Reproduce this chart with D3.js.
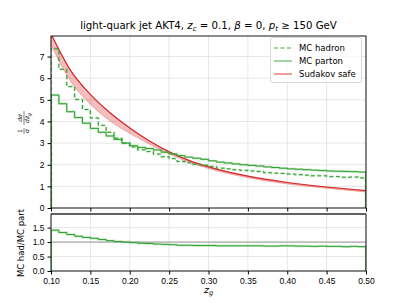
<!DOCTYPE html>
<html>
<head>
<meta charset="utf-8">
<script src="https://cdn.jsdelivr.net/npm/d3@7"></script>
<style>
  body { margin: 0; background: #fff; }
  svg { font-family: "DejaVu Sans", sans-serif; }
  .tick text { font-size: 8.5px; fill: #000; }
</style>
</head>
<body>
<svg id="chart" width="407" height="305"></svg>
<script>
// bin lower edges (width 0.01) from 0.10 to 0.49
var binEdges = [0.10,0.11,0.12,0.13,0.14,0.15,0.16,0.17,0.18,0.19,
                0.20,0.21,0.22,0.23,0.24,0.25,0.26,0.27,0.28,0.29,
                0.30,0.31,0.32,0.33,0.34,0.35,0.36,0.37,0.38,0.39,
                0.40,0.41,0.42,0.43,0.44,0.45,0.46,0.47,0.48,0.49];
var binEnd = 0.50;

var mcParton = [5.22,4.82,4.45,4.18,3.92,3.68,3.50,3.33,3.17,3.00,
                2.88,2.80,2.75,2.68,2.58,2.50,2.42,2.35,2.30,2.25,
                2.18,2.12,2.08,2.04,2.00,1.97,1.94,1.90,1.87,1.84,
                1.81,1.79,1.77,1.75,1.73,1.71,1.70,1.69,1.68,1.66];

var mcHadron = [7.36,6.41,5.61,5.02,4.55,4.16,3.82,3.50,3.23,3.00,
                2.82,2.69,2.61,2.49,2.37,2.28,2.15,2.09,2.02,1.98,
                1.92,1.84,1.81,1.77,1.74,1.71,1.69,1.63,1.61,1.60,
                1.57,1.54,1.52,1.49,1.49,1.45,1.45,1.42,1.43,1.39];

var ratio = [1.41,1.33,1.26,1.20,1.16,1.13,1.09,1.05,1.02,1.00,
             0.98,0.96,0.95,0.93,0.92,0.91,0.89,0.89,0.88,0.88,
             0.88,0.87,0.87,0.87,0.87,0.87,0.87,0.86,0.86,0.87,
             0.87,0.86,0.86,0.85,0.86,0.85,0.85,0.84,0.85,0.84];

// Sudakov safe curve (upper edge) and lower edge of its band
var sudZ    = [0.100,0.125,0.150,0.175,0.200,0.225,0.250,0.275,0.300,0.350,0.400,0.450,0.500];
var sudHigh = [8.05, 6.35, 5.25, 4.40, 3.70, 3.10, 2.60, 2.20, 1.90, 1.47, 1.18, 0.97, 0.80];
var sudLow  = [7.55, 5.85, 4.80, 4.02, 3.45, 2.95, 2.50, 2.12, 1.82, 1.40, 1.11, 0.91, 0.74];

var xTicks = [0.10,0.15,0.20,0.25,0.30,0.35,0.40,0.45,0.50];
var yTicksMain = [0,1,2,3,4,5,6,7];
var yTicksRatio = [0.0,0.5,1.0,1.5];

var green = "#2ca02c", red = "#d62728";

var svg = d3.select("#chart");
var left = 51, right = 366;
var main = {top: 36, bottom: 208};
var low = {top: 214, bottom: 271};

var x = d3.scaleLinear().domain([0.1, 0.5]).range([left, right]);
var y = d3.scaleLinear().domain([0, 7.95]).range([main.bottom, main.top]);
var yr = d3.scaleLinear().domain([0, 1.97]).range([low.bottom, low.top]);

var defs = svg.append("defs");
defs.append("clipPath").attr("id", "clipMain").append("rect")
    .attr("x", left).attr("y", main.top).attr("width", right - left).attr("height", main.bottom - main.top);
defs.append("clipPath").attr("id", "clipLow").append("rect")
    .attr("x", left).attr("y", low.top).attr("width", right - left).attr("height", low.bottom - low.top);

// grids
function grid(g, yScale, yt, top, bottom) {
  g.selectAll(".vg").data(xTicks).enter().append("line")
    .attr("x1", d => x(d)).attr("x2", d => x(d))
    .attr("y1", top).attr("y2", bottom)
    .attr("stroke", "#e0e0e0").attr("stroke-width", 0.8);
  g.selectAll(".hg").data(yt).enter().append("line")
    .attr("x1", left).attr("x2", right)
    .attr("y1", d => yScale(d)).attr("y2", d => yScale(d))
    .attr("stroke", "#e0e0e0").attr("stroke-width", 0.8);
}
grid(svg.append("g"), y, yTicksMain, main.top, main.bottom);
grid(svg.append("g"), yr, yTicksRatio, low.top, low.bottom);

// step histogram path (starts and ends at zero like histtype='step')
function stepPoints(vals) {
  var pts = [[binEdges[0], 0]];
  vals.forEach(function(v, i) { pts.push([binEdges[i], v]); });
  pts.push([binEnd, vals[vals.length - 1]]);
  pts.push([binEnd, 0]);
  return pts;
}
function stepLine(yScale) {
  return d3.line().curve(d3.curveStepAfter)
    .x(d => x(d[0])).y(d => yScale(d[1]));
}

var gMain = svg.append("g").attr("clip-path", "url(#clipMain)");

// Sudakov safe band + line
var sudData = sudZ.map((z, i) => ({z: z, hi: sudHigh[i], lo: sudLow[i]}));
gMain.append("path").datum(sudData)
  .attr("d", d3.area().curve(d3.curveMonotoneX)
    .x(d => x(d.z)).y0(d => y(d.lo)).y1(d => y(d.hi)))
  .attr("fill", red).attr("fill-opacity", 0.3).attr("stroke", red).attr("stroke-opacity", 0.3).attr("stroke-width", 1);
gMain.append("path").datum(sudData)
  .attr("d", d3.line().curve(d3.curveMonotoneX).x(d => x(d.z)).y(d => y(d.hi)))
  .attr("fill", "none").attr("stroke", red).attr("stroke-width", 1.2);

// MC parton / hadron: light band under the line
[[mcParton, null], [mcHadron, "4,2.5"]].forEach(function(s) {
  var pts = stepPoints(s[0]);
  gMain.append("path").datum(pts).attr("d", stepLine(y))
    .attr("fill", "none").attr("stroke", green).attr("stroke-opacity", 0.25).attr("stroke-width", 2.4)
    .attr("stroke-dasharray", s[1]);
  gMain.append("path").datum(pts).attr("d", stepLine(y))
    .attr("fill", "none").attr("stroke", green).attr("stroke-width", 1)
    .attr("stroke-dasharray", s[1]);
});

// main axes
svg.append("rect").attr("x", left).attr("y", main.top).attr("width", right - left).attr("height", main.bottom - main.top)
  .attr("fill", "none").attr("stroke", "#000").attr("stroke-width", 0.9);
svg.append("g").attr("transform", "translate(" + left + ",0)")
  .call(d3.axisLeft(y).tickValues(yTicksMain).tickFormat(d3.format("d")).tickSize(3.5).tickPadding(3))
  .call(g => g.select(".domain").remove());
svg.append("g").attr("transform", "translate(0," + main.bottom + ")")
  .call(d3.axisBottom(x).tickValues(xTicks).tickFormat("").tickSize(3.5))
  .call(g => g.select(".domain").remove());

// ratio panel
var gLow = svg.append("g").attr("clip-path", "url(#clipLow)");
gLow.append("line").attr("x1", left).attr("x2", right).attr("y1", yr(1)).attr("y2", yr(1))
  .attr("stroke", "#999").attr("stroke-width", 1);
var rpts = stepPoints(ratio);
gLow.append("path").datum(rpts).attr("d", stepLine(yr))
  .attr("fill", "none").attr("stroke", green).attr("stroke-opacity", 0.25).attr("stroke-width", 2.4);
gLow.append("path").datum(rpts).attr("d", stepLine(yr))
  .attr("fill", "none").attr("stroke", green).attr("stroke-width", 1);

svg.append("rect").attr("x", left).attr("y", low.top).attr("width", right - left).attr("height", low.bottom - low.top)
  .attr("fill", "none").attr("stroke", "#000").attr("stroke-width", 0.9);
svg.append("line").attr("x1", left).attr("x2", right).attr("y1", low.top).attr("y2", low.top)
  .attr("stroke", "#555").attr("stroke-width", 1.6);
svg.append("g").attr("transform", "translate(" + left + ",0)")
  .call(d3.axisLeft(yr).tickValues(yTicksRatio).tickFormat(d3.format(".1f")).tickSize(3.5).tickPadding(3))
  .call(g => g.select(".domain").remove());
svg.append("g").attr("transform", "translate(0," + low.bottom + ")")
  .call(d3.axisBottom(x).tickValues(xTicks).tickFormat(d3.format(".2f")).tickSize(3.5).tickPadding(3))
  .call(g => g.select(".domain").remove());

// title
var title = svg.append("text").attr("x", (left + right) / 2).attr("y", 29)
  .attr("text-anchor", "middle").attr("font-size", 10.2);
title.append("tspan").text("light-quark jet AKT4, ");
title.append("tspan").attr("font-style", "italic").text("z");
title.append("tspan").attr("font-style", "italic").attr("font-size", 7).attr("dy", 2).text("c");
title.append("tspan").attr("dy", -2).text(" = 0.1, ");
title.append("tspan").attr("font-style", "italic").text("β");
title.append("tspan").text(" = 0, ");
title.append("tspan").attr("font-style", "italic").text("p");
title.append("tspan").attr("font-style", "italic").attr("font-size", 7).attr("dy", 2).text("t");
title.append("tspan").attr("dy", -2).text(" ≥ 150 GeV");

// y labels
var yl = svg.append("g").attr("transform", "translate(24,122) rotate(-90)").attr("font-size", 6);
yl.append("text").attr("x", -9).attr("y", -2).attr("text-anchor", "middle").text("1");
yl.append("line").attr("x1", -12).attr("x2", -6).attr("y1", 0).attr("y2", 0).attr("stroke", "#000").attr("stroke-width", 0.5);
yl.append("text").attr("x", -9).attr("y", 5).attr("text-anchor", "middle").attr("font-style", "italic").text("σ");
yl.append("text").attr("x", 4).attr("y", -2).attr("text-anchor", "middle").attr("font-style", "italic").text("dσ");
yl.append("line").attr("x1", -3).attr("x2", 11).attr("y1", 0).attr("y2", 0).attr("stroke", "#000").attr("stroke-width", 0.5);
var dz = yl.append("text").attr("x", 4).attr("y", 5).attr("text-anchor", "middle").attr("font-style", "italic");
dz.append("tspan").text("dz");
dz.append("tspan").attr("font-size", 4.5).attr("dy", 1.5).text("g");

svg.append("text").attr("transform", "translate(24,243) rotate(-90)")
  .attr("text-anchor", "middle").attr("font-size", 8.5).text("MC had/MC part");

// x label
var xl = svg.append("text").attr("x", (left + right) / 2).attr("y", 293)
  .attr("text-anchor", "middle").attr("font-size", 9.5).attr("font-style", "italic");
xl.append("tspan").text("z");
xl.append("tspan").attr("font-size", 6.5).attr("dy", 2).text("g");

// legend
var legendItems = [
  {label: "MC hadron", color: green, dash: "4,2.5"},
  {label: "MC parton", color: green, dash: null},
  {label: "Sudakov safe", color: red, dash: null}
];
var lg = svg.append("g");
lg.append("rect").attr("x", 270.5).attr("y", 37.5).attr("width", 91).attr("height", 45).attr("rx", 2)
  .attr("fill", "#fff").attr("fill-opacity", 0.8).attr("stroke", "#ccc").attr("stroke-width", 0.8);
legendItems.forEach(function(d, i) {
  var yy = 48 + i * 13;
  lg.append("line").attr("x1", 274).attr("x2", 292).attr("y1", yy).attr("y2", yy)
    .attr("stroke", d.color).attr("stroke-opacity", 0.6).attr("stroke-width", 1.5)
    .attr("stroke-dasharray", d.dash);
  lg.append("text").attr("x", 299).attr("y", yy + 3).attr("font-size", 8.5).text(d.label);
});
</script>
</body>
</html>
